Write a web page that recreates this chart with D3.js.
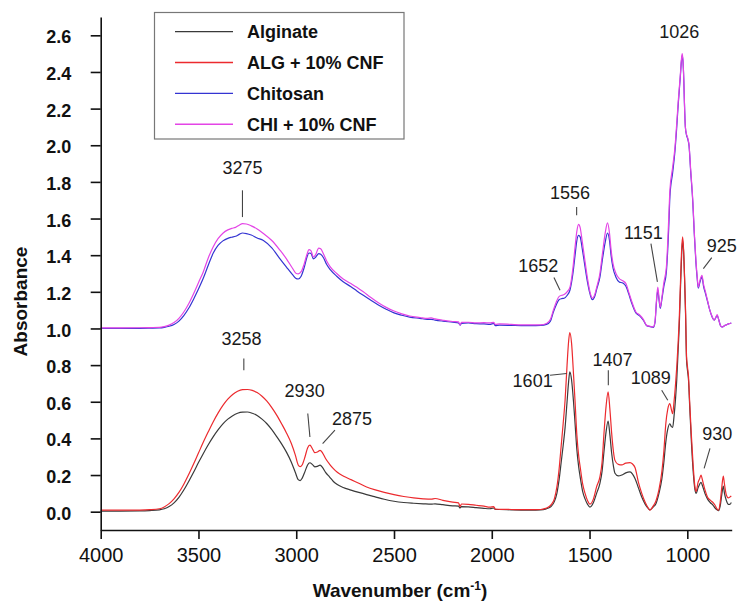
<!DOCTYPE html>
<html>
<head>
<meta charset="utf-8">
<script src="https://cdn.jsdelivr.net/npm/d3@7"></script>
<style>
  html, body { margin: 0; padding: 0; background: #fff; }
  svg { display: block; font-family: "Liberation Sans", Arial, Helvetica, sans-serif; }
</style>
</head>
<body>
<svg id="chart" width="739" height="602"></svg>
<script>
// ---------------------------------------------------------------
// FTIR spectra: wavenumber (cm-1) and absorbance
// ---------------------------------------------------------------

// Wavenumber grid for the alginate pair
const wnAlg = [
  4000, 3900, 3800, 3750, 3700, 3675, 3650, 3625, 3600, 3575,
  3550, 3525, 3500, 3475, 3450, 3425, 3400, 3375, 3350, 3325,
  3300, 3275, 3250, 3225, 3200, 3175, 3150, 3125, 3100, 3075,
  3050, 3025, 3005, 2990, 2980, 2970, 2955, 2942, 2930, 2918,
  2905, 2892, 2878, 2865, 2850, 2830, 2810, 2790, 2760, 2720,
  2680, 2640, 2600, 2550, 2500, 2450, 2400, 2350, 2310, 2290,
  2250, 2200, 2170, 2162, 2155, 2120, 2080, 2040, 2010, 1990,
  1982, 1960, 1900, 1850, 1800, 1750, 1725, 1710, 1695, 1680,
  1667, 1655, 1645, 1635, 1625, 1615, 1607, 1601, 1592, 1582,
  1574, 1565, 1555, 1548, 1535, 1523, 1510, 1498, 1480, 1464,
  1447, 1436, 1426, 1415, 1405, 1396, 1387, 1378, 1370, 1353,
  1335, 1315, 1293, 1280, 1267, 1250, 1233, 1215, 1200, 1191,
  1175, 1160, 1145, 1130, 1120, 1110, 1100, 1089, 1082, 1075,
  1068, 1060, 1054, 1047, 1041, 1035, 1029, 1024, 1019, 1014,
  1009, 1004, 999, 994, 988, 980, 970, 961, 955, 945,
  937, 930, 922, 910, 897, 883, 868, 858, 848, 841,
  832, 824, 816, 810, 800, 790, 782, 775
];

const alginate = [
  0.003, 0.003, 0.004, 0.006, 0.010, 0.016, 0.028, 0.048, 0.078, 0.118,
  0.165, 0.215, 0.268, 0.318, 0.365, 0.408, 0.446, 0.479, 0.505, 0.524,
  0.537, 0.543, 0.544, 0.537, 0.525, 0.505, 0.480, 0.448, 0.410, 0.370,
  0.325, 0.270, 0.215, 0.175, 0.170, 0.182, 0.220, 0.255, 0.267, 0.258,
  0.245, 0.247, 0.254, 0.240, 0.215, 0.190, 0.165, 0.148, 0.132, 0.118,
  0.105, 0.093, 0.082, 0.068, 0.057, 0.050, 0.046, 0.043, 0.041, 0.043,
  0.038, 0.032, 0.030, 0.020, 0.028, 0.026, 0.022, 0.018, 0.016, 0.020,
  0.012, 0.012, 0.010, 0.009, 0.009, 0.010, 0.014, 0.020, 0.030, 0.055,
  0.100, 0.180, 0.270, 0.360, 0.460, 0.600, 0.710, 0.763, 0.720, 0.600,
  0.480, 0.340, 0.240, 0.190, 0.110, 0.070, 0.040, 0.025, 0.050, 0.100,
  0.155, 0.220, 0.330, 0.440, 0.495, 0.420, 0.320, 0.250, 0.210, 0.195,
  0.200, 0.212, 0.217, 0.205, 0.180, 0.130, 0.080, 0.040, 0.018, 0.010,
  0.025, 0.045, 0.100, 0.180, 0.270, 0.380, 0.450, 0.480, 0.465, 0.460,
  0.520, 0.620, 0.720, 0.880, 1.020, 1.220, 1.400, 1.480, 1.420, 1.270,
  1.080, 0.830, 0.770, 0.720, 0.580, 0.400, 0.220, 0.120, 0.100, 0.130,
  0.150, 0.160, 0.140, 0.100, 0.070, 0.050, 0.035, 0.020, 0.010, 0.005,
  0.030, 0.090, 0.140, 0.100, 0.060, 0.040, 0.040, 0.050
];

const algCnf = [
  0.008, 0.008, 0.009, 0.011, 0.016, 0.026, 0.044, 0.070, 0.105, 0.150,
  0.203, 0.260, 0.320, 0.380, 0.436, 0.490, 0.538, 0.580, 0.614, 0.640,
  0.657, 0.666, 0.667, 0.662, 0.650, 0.630, 0.603, 0.568, 0.527, 0.480,
  0.430, 0.372, 0.310, 0.255, 0.246, 0.255, 0.300, 0.348, 0.363, 0.345,
  0.322, 0.326, 0.335, 0.320, 0.290, 0.260, 0.235, 0.215, 0.195, 0.175,
  0.155, 0.135, 0.120, 0.105, 0.093, 0.083, 0.075, 0.070, 0.068, 0.072,
  0.062, 0.052, 0.048, 0.028, 0.042, 0.040, 0.035, 0.030, 0.025, 0.028,
  0.014, 0.013, 0.012, 0.011, 0.011, 0.012, 0.018, 0.025, 0.040, 0.070,
  0.135, 0.240, 0.360, 0.480, 0.610, 0.800, 0.930, 0.978, 0.920, 0.750,
  0.600, 0.420, 0.300, 0.245, 0.150, 0.100, 0.060, 0.041, 0.070, 0.135,
  0.190, 0.270, 0.430, 0.580, 0.654, 0.560, 0.430, 0.330, 0.280, 0.258,
  0.255, 0.265, 0.268, 0.260, 0.240, 0.160, 0.100, 0.050, 0.020, 0.008,
  0.030, 0.060, 0.120, 0.220, 0.330, 0.480, 0.560, 0.590, 0.560, 0.535,
  0.600, 0.700, 0.790, 0.920, 1.060, 1.250, 1.430, 1.500, 1.430, 1.280,
  1.100, 0.850, 0.790, 0.740, 0.600, 0.430, 0.250, 0.135, 0.110, 0.160,
  0.180, 0.200, 0.170, 0.120, 0.080, 0.063, 0.050, 0.035, 0.015, 0.008,
  0.050, 0.130, 0.194, 0.150, 0.090, 0.075, 0.080, 0.085
];

// Wavenumber grid for the chitosan pair
const wnChi = [
  4000, 3900, 3800, 3750, 3700, 3675, 3650, 3625, 3600, 3575,
  3550, 3525, 3500, 3475, 3450, 3425, 3400, 3375, 3350, 3330,
  3310, 3290, 3275, 3255, 3230, 3200, 3168, 3125, 3083, 3050,
  3020, 3000, 2990, 2975, 2960, 2945, 2935, 2925, 2912, 2900,
  2885, 2875, 2860, 2845, 2825, 2793, 2760, 2720, 2690, 2657,
  2620, 2580, 2540, 2500, 2460, 2420, 2367, 2330, 2310, 2290,
  2250, 2200, 2170, 2162, 2155, 2120, 2080, 2040, 2010, 1990,
  1982, 1960, 1900, 1850, 1800, 1750, 1720, 1700, 1685, 1670,
  1655, 1642, 1630, 1615, 1600, 1585, 1574, 1565, 1556, 1548,
  1538, 1525, 1510, 1498, 1486, 1475, 1462, 1447, 1435, 1420,
  1408, 1398, 1390, 1380, 1365, 1348, 1330, 1314, 1300, 1285,
  1263, 1245, 1225, 1208, 1190, 1174, 1165, 1158, 1151, 1145,
  1138, 1130, 1120, 1107, 1095, 1089, 1075, 1063, 1054, 1046,
  1036, 1030, 1026, 1022, 1018, 1015, 1010, 1004, 998, 991,
  983, 972, 964, 956, 950, 944, 936, 925, 917, 907,
  897, 885, 872, 862, 855, 847, 840, 830, 822, 810,
  800, 790, 782, 775
];

const chitosan = [
  1.000, 1.000, 1.001, 1.002, 1.003, 1.006, 1.012, 1.022, 1.040, 1.070,
  1.110, 1.160, 1.215, 1.275, 1.345, 1.410, 1.453, 1.478, 1.492, 1.498,
  1.503, 1.515, 1.521, 1.518, 1.510, 1.494, 1.480, 1.440, 1.380, 1.335,
  1.295, 1.272, 1.270, 1.285, 1.330, 1.390, 1.412, 1.410, 1.380, 1.390,
  1.409, 1.405, 1.385, 1.350, 1.320, 1.285, 1.255, 1.228, 1.205, 1.181,
  1.155, 1.128, 1.105, 1.085, 1.072, 1.062, 1.055, 1.050, 1.050, 1.046,
  1.040, 1.034, 1.030, 1.018, 1.028, 1.030, 1.026, 1.025, 1.022, 1.028,
  1.015, 1.018, 1.017, 1.016, 1.016, 1.017, 1.022, 1.040, 1.090, 1.130,
  1.158, 1.163, 1.165, 1.180, 1.210, 1.300, 1.400, 1.480, 1.508, 1.500,
  1.440, 1.350, 1.250, 1.190, 1.157, 1.170, 1.220, 1.280, 1.370, 1.470,
  1.521, 1.480, 1.400, 1.330, 1.280, 1.254, 1.248, 1.230, 1.190, 1.140,
  1.085, 1.070, 1.045, 1.015, 1.010, 1.006, 1.035, 1.140, 1.210, 1.160,
  1.110, 1.160, 1.230, 1.310, 1.550, 1.720, 1.850, 1.970, 2.100, 2.230,
  2.370, 2.460, 2.490, 2.455, 2.355, 2.240, 2.100, 2.055, 2.035, 1.995,
  1.860, 1.690, 1.510, 1.360, 1.280, 1.220, 1.250, 1.280, 1.230, 1.190,
  1.150, 1.100, 1.060, 1.045, 1.058, 1.070, 1.050, 1.015, 1.008, 1.015,
  1.020, 1.025, 1.027, 1.030
];

const chiCnf = [
  1.003, 1.003, 1.004, 1.005, 1.006, 1.010, 1.018, 1.032, 1.055, 1.090,
  1.135, 1.190, 1.250, 1.310, 1.385, 1.445, 1.490, 1.520, 1.538, 1.546,
  1.552, 1.565, 1.572, 1.570, 1.560, 1.543, 1.518, 1.480, 1.427, 1.380,
  1.330, 1.300, 1.298, 1.310, 1.350, 1.405, 1.430, 1.425, 1.390, 1.405,
  1.439, 1.435, 1.405, 1.370, 1.335, 1.300, 1.270, 1.245, 1.225, 1.200,
  1.170, 1.140, 1.115, 1.095, 1.080, 1.068, 1.060, 1.055, 1.058, 1.052,
  1.045, 1.038, 1.036, 1.020, 1.033, 1.034, 1.030, 1.032, 1.030, 1.033,
  1.022, 1.025, 1.022, 1.020, 1.020, 1.020, 1.027, 1.050, 1.100, 1.145,
  1.175, 1.181, 1.185, 1.200, 1.226, 1.330, 1.445, 1.530, 1.568, 1.550,
  1.480, 1.380, 1.270, 1.200, 1.166, 1.180, 1.230, 1.300, 1.400, 1.520,
  1.576, 1.520, 1.430, 1.354, 1.300, 1.272, 1.260, 1.245, 1.200, 1.150,
  1.090, 1.075, 1.050, 1.017, 1.012, 1.008, 1.040, 1.150, 1.226, 1.170,
  1.117, 1.170, 1.250, 1.335, 1.600, 1.754, 1.880, 1.990, 2.120, 2.245,
  2.380, 2.470, 2.500, 2.460, 2.360, 2.245, 2.100, 2.060, 2.040, 2.000,
  1.870, 1.700, 1.520, 1.372, 1.290, 1.226, 1.260, 1.290, 1.240, 1.200,
  1.154, 1.100, 1.063, 1.045, 1.060, 1.075, 1.050, 1.015, 1.008, 1.015,
  1.020, 1.025, 1.027, 1.030
];

const seriesNames = ["Alginate", "ALG + 10% CNF", "Chitosan", "CHI + 10% CNF"];
const xTickValues = [4000, 3500, 3000, 2500, 2000, 1500, 1000];
const xMinorValues = [3750, 3250, 2750, 2250, 1750, 1250];
const yTickValues = [0.0, 0.2, 0.4, 0.6, 0.8, 1.0, 1.2, 1.4, 1.6, 1.8, 2.0, 2.2, 2.4, 2.6];
const yMinorValues = [-0.1, 0.1, 0.3, 0.5, 0.7, 0.9, 1.1, 1.3, 1.5, 1.7, 1.9, 2.1, 2.3, 2.5, 2.7];
const peakLabels = ["3275", "1556", "1652", "1151", "1026", "925",
                    "3258", "2930", "2875", "1601", "1407", "1089", "930"];

// ---------------------------------------------------------------
// Drawing
// ---------------------------------------------------------------
const FONT = '"Liberation Sans", Arial, Helvetica, sans-serif';
const colors = ["#3a3a3a", "#ec2a2e", "#3434d2", "#e444e6"];

const svg = d3.select("#chart");

const x = d3.scaleLinear().domain([4000, 773]).range([100.7, 731.7]);
const y = d3.scaleLinear().domain([-0.1, 2.7]).range([530, 17]);

// spectra
const series = [
  { wn: wnAlg, ab: alginate },
  { wn: wnAlg, ab: algCnf },
  { wn: wnChi, ab: chitosan },
  { wn: wnChi, ab: chiCnf }
];

const line = d3.line()
  .x(d => x(d[0]))
  .y(d => y(d[1]))
  .curve(d3.curveMonotoneX);

const plot = svg.append("g");
series.forEach((s, i) => {
  const pts = d3.zip(s.wn, s.ab).filter(p => p[0] != null && p[1] != null);
  plot.append("path")
    .datum(pts)
    .attr("fill", "none")
    .attr("stroke", colors[i])
    .attr("stroke-width", 1.2)
    .attr("stroke-linejoin", "round")
    .attr("d", line);
});

// axes
const axisStroke = 1.6;

const gy = svg.append("g").attr("transform", `translate(${x.range()[0]},0)`);
gy.call(d3.axisLeft(y).tickValues(yMinorValues).tickSize(5).tickSizeOuter(0).tickFormat(""));
gy.call(d3.axisLeft(y).tickValues(yTickValues).tickSize(10).tickSizeOuter(0)
  .tickPadding(19.5).tickFormat(d3.format(".1f")));
gy.selectAll("text")
  .attr("dy", "0.42em")
  .attr("font-family", FONT)
  .attr("font-size", 18)
  .attr("font-weight", "bold")
  .attr("fill", "#111");

const gx = svg.append("g").attr("transform", `translate(0,${y.range()[0]})`);
gx.call(d3.axisBottom(x).tickValues(xMinorValues).tickSize(5).tickSizeOuter(0).tickFormat(""));
gx.call(d3.axisBottom(x).tickValues(xTickValues).tickSize(9).tickSizeOuter(0)
  .tickPadding(9).tickFormat(d3.format("d")));
gx.selectAll("text")
  .attr("font-family", FONT)
  .attr("font-size", 20)
  .attr("fill", "#111");

[gx, gy].forEach(g => {
  g.selectAll("path.domain").attr("stroke", "#111").attr("stroke-width", axisStroke);
  g.selectAll(".tick line").attr("stroke", "#111").attr("stroke-width", axisStroke);
});

// axis titles
svg.append("text")
  .attr("transform", `translate(27,${(y(2.7) + y(-0.1)) / 2 + 28}) rotate(-90)`)
  .attr("text-anchor", "middle")
  .attr("font-family", FONT)
  .attr("font-size", 19)
  .attr("font-weight", "bold")
  .attr("fill", "#111")
  .text("Absorbance");

const xTitle = svg.append("text")
  .attr("x", 400)
  .attr("y", 597)
  .attr("text-anchor", "middle")
  .attr("font-family", FONT)
  .attr("font-size", 19)
  .attr("font-weight", "bold")
  .attr("fill", "#111");
xTitle.append("tspan").text("Wavenumber (cm");
xTitle.append("tspan").attr("dy", -7).attr("font-size", 12).text("-1");
xTitle.append("tspan").attr("dy", 7).text(")");

// peak annotations: label position and leader line, in data units
const labelLayout = {
  "3275": { at: [3275, 1.844], lead: [[3275, 1.754], [3275, 1.608]] },
  "1556": { at: [1600, 1.709], lead: [[1566, 1.663], [1566, 1.618]] },
  "1652": { at: [1762, 1.308], lead: [[1682, 1.278], [1651, 1.209]] },
  "1151": { at: [1225, 1.490], lead: [[1186, 1.463], [1153, 1.254]] },
  "1026": { at: [1041, 2.587], lead: null },
  "925":  { at: [824, 1.417],  lead: [[875, 1.387], [918, 1.327]] },
  "3258": { at: [3280, 0.908], lead: [[3268, 0.836], [3268, 0.772]] },
  "2930": { at: [2957, 0.626], lead: [[2941, 0.536], [2930, 0.408]] },
  "2875": { at: [2715, 0.472], lead: [[2802, 0.445], [2865, 0.372]] },
  "1601": { at: [1791, 0.681], lead: [[1702, 0.745], [1617, 0.754]] },
  "1407": { at: [1383, 0.795], lead: [[1404, 0.772], [1404, 0.690]] },
  "1089": { at: [1187, 0.699], lead: [[1131, 0.663], [1100, 0.608]] },
  "930":  { at: [847, 0.390],  lead: [[884, 0.345], [914, 0.236]] }
};

const ann = svg.append("g");
peakLabels.forEach(lbl => {
  const L = labelLayout[lbl];
  ann.append("text")
    .attr("x", x(L.at[0]))
    .attr("y", y(L.at[1]))
    .attr("text-anchor", "middle")
    .attr("font-family", FONT)
    .attr("font-size", 18)
    .attr("fill", "#1a1a1a")
    .text(lbl);
  if (L.lead) {
    ann.append("line")
      .attr("x1", x(L.lead[0][0])).attr("y1", y(L.lead[0][1]))
      .attr("x2", x(L.lead[1][0])).attr("y2", y(L.lead[1][1]))
      .attr("stroke", "#444")
      .attr("stroke-width", 1.1);
  }
});

// legend
const lg = svg.append("g");
lg.append("rect")
  .attr("x", 154.5).attr("y", 12.5)
  .attr("width", 249.5).attr("height", 126.5)
  .attr("fill", "#fff")
  .attr("stroke", "#777")
  .attr("stroke-width", 1.2);
seriesNames.forEach((name, i) => {
  const cy = 31.6 + i * 30.9;
  lg.append("line")
    .attr("x1", 175).attr("x2", 233)
    .attr("y1", cy).attr("y2", cy)
    .attr("stroke", colors[i])
    .attr("stroke-width", 1.4);
  lg.append("text")
    .attr("x", 247)
    .attr("y", cy + 6.2)
    .attr("font-family", FONT)
    .attr("font-size", 18)
    .attr("font-weight", "bold")
    .attr("fill", "#111")
    .text(name);
});
</script>
</body>
</html>
